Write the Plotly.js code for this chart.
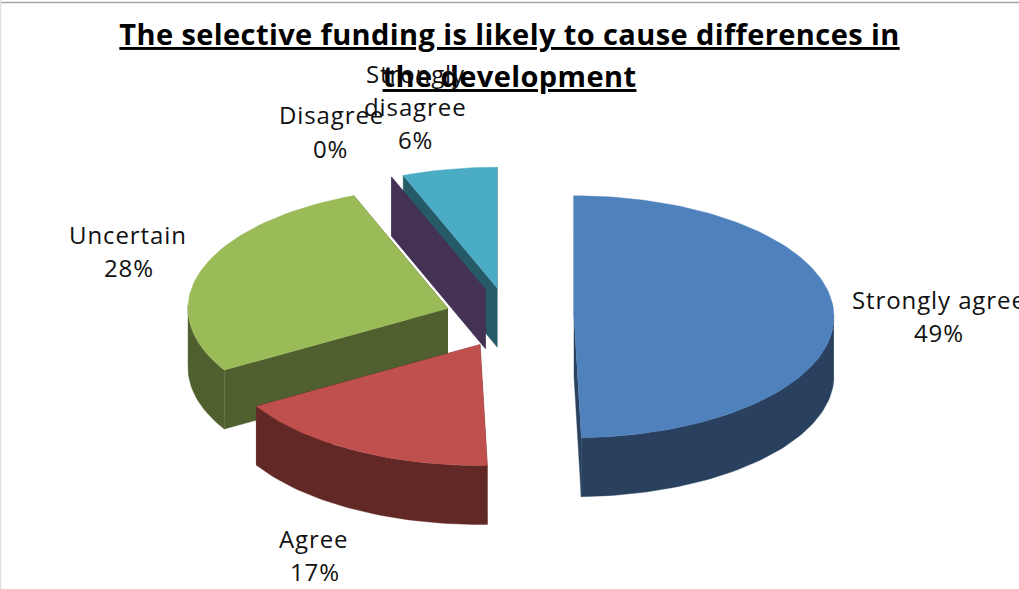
<!DOCTYPE html>
<html>
<head>
<meta charset="utf-8">
<script src="https://cdn.plot.ly/plotly-3.0.1.min.js"></script>
<style>
html,body{margin:0;padding:0;background:#fff;overflow:hidden}
.annotation-text{letter-spacing:0.9px}
.gtitle{letter-spacing:0.4px}
</style>
</head>
<body>
<div id="chart" style="width:1019px;height:589px"></div>
<script>
// Survey answers, in drawing order clockwise from twelve o'clock
const categories = ['Strongly agree', 'Agree', 'Uncertain', 'Disagree', 'Strongly disagree'];
const percentages = [49, 17, 28, 0, 6];
const topColors = ['#4F81BD', '#C0504D', '#9BBB59', '#8064A2', '#4BACC6'];
const wallColors = ['#29415F', '#622826', '#4F5F2D', '#433254', '#265A67'];
const titleText = 'The selective funding is likely to cause differences in<br>the development';

// Each label is stacked line by line: [line text, centre x, baseline-centre y]
const labelLines = [
  [['Strongly agree', 939, 299], ['49%', 939, 332]],
  [['Agree', 313, 538], ['17%', 315, 571]],
  [['Uncertain', 128, 234], ['28%', 129, 267]],
  [['Disagree', 331, 114], ['0%', 330, 148]],
  [['Strongly', 415, 73], ['disagree', 415, 106], ['6%', 415, 139]]
];

// Tilted, extruded pie: the disc projects to an ellipse, walls drop straight down
const centre = {x: 509.4, y: 317.7};
const radiusX = 260, radiusY = 121, wallDepth = 59, explode = 64.6;
const rimSkew = 2; // degrees of rim drift from the oblique 3D projection
const rad = d => d * Math.PI / 180;
const onRim = (c, a) => {
  const seen = a + rimSkew * Math.sin(rad(a / 2));
  return [c.x + radiusX * Math.sin(rad(seen)), c.y - radiusY * Math.cos(rad(seen))];
};

function arc(c, from, to) {
  const pts = [];
  const n = Math.max(1, Math.ceil(Math.abs(to - from) / 1.5));
  for (let i = 0; i <= n; i++) pts.push(onRim(c, from + (to - from) * i / n));
  return pts;
}
function face(name, pts, color) {
  return {
    type: 'scatter', mode: 'lines', name: name, fill: 'toself', fillcolor: color,
    x: pts.map(p => p[0]), y: pts.map(p => p[1]),
    line: {color: color, width: 0.4}, hoverinfo: 'skip', showlegend: false
  };
}
const dropped = pts => pts.map(p => [p[0], p[1] + wallDepth]);

// Work out start and end angles from the percentages
let running = 0;
const slices = percentages.map((p, i) => {
  const start = running * 3.6;
  running += p;
  const end = running * 3.6;
  const mid = (start + end) / 2;
  const c = {
    x: centre.x + explode * Math.sin(rad(mid)),
    y: centre.y - explode * (radiusY / radiusX) * Math.cos(rad(mid))
  };
  return {i, start, end, c};
});

// Paint from the back of the pie to the front
const traces = [];
[4, 3, 2, 1, 0].forEach(k => {
  const s = slices[k];
  const name = categories[k];
  const apex = [s.c.x, s.c.y];
  [s.start, s.end].forEach(a => {
    const edge = [apex, onRim(s.c, a)];
    traces.push(face(name + ' cut face', edge.concat(dropped(edge).reverse()), wallColors[k]));
  });
  const frontFrom = Math.max(s.start, 90), frontTo = Math.min(s.end, 270);
  if (frontTo > frontFrom) {
    const rim = arc(s.c, frontFrom, frontTo);
    traces.push(face(name + ' outer wall', rim.concat(dropped(rim).reverse()), wallColors[k]));
  }
  if (s.end > s.start) {
    traces.push(face(name, [apex].concat(arc(s.c, s.start, s.end)), topColors[k]));
  }
});

const annotations = [];
labelLines.forEach(lines => lines.forEach(l => annotations.push({
  x: l[1], y: l[2], xref: 'x', yref: 'y', text: l[0], showarrow: false,
  xanchor: 'center', yanchor: 'middle',
  font: {family: '"Open Sans", sans-serif', size: 24, color: '#111'}
})));

const layout = {
  width: 1019, height: 589,
  margin: {l: 0, r: 0, t: 0, b: 0},
  paper_bgcolor: '#fff', plot_bgcolor: '#fff',
  showlegend: false,
  title: {
    text: titleText, x: 0.5, xanchor: 'center', xref: 'paper',
    y: 1 - 45 / 589, yanchor: 'top', yref: 'paper',
    font: {family: '"Open Sans", sans-serif', size: 29, weight: 700, color: '#000', lineposition: 'under'}
  },
  xaxis: {range: [0, 1019], visible: false, fixedrange: true},
  yaxis: {range: [589, 0], visible: false, fixedrange: true},
  annotations: annotations,
  shapes: [
    {type: 'line', xref: 'paper', yref: 'paper', x0: 0, x1: 1, y0: 1 - 2.5 / 589, y1: 1 - 2.5 / 589,
     line: {color: '#a6a6a6', width: 1.5}},
    {type: 'line', xref: 'paper', yref: 'paper', x0: 0.0005, x1: 0.0005, y0: 0, y1: 1,
     line: {color: '#e0e0e0', width: 1.5}}
  ]
};

Plotly.newPlot('chart', traces, layout, {displayModeBar: false, staticPlot: true}).then(() => {
  // Open up the leading between the two title lines
  const lines = document.querySelectorAll('.gtitle tspan.line');
  if (lines.length > 1) lines[1].setAttribute('dy', '1.45em');
});
</script>
</body>
</html>
